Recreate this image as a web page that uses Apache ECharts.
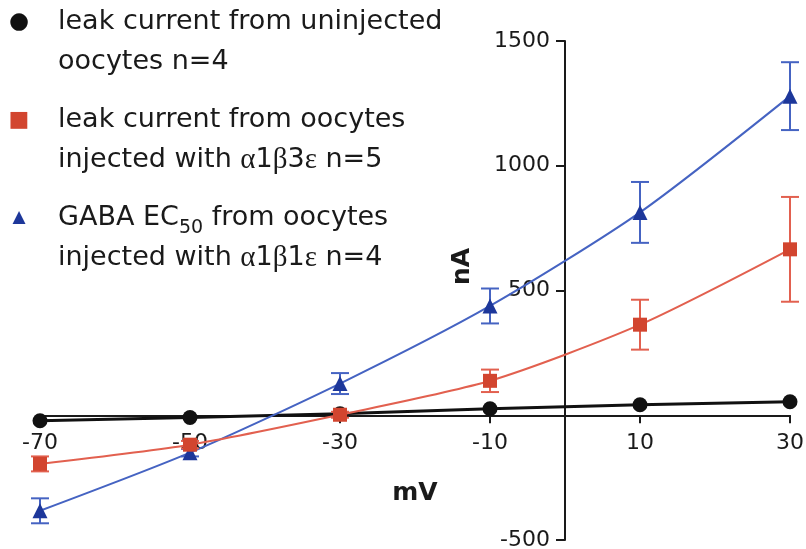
<!DOCTYPE html>
<html>
<head>
<meta charset="utf-8">
<script src="https://cdn.jsdelivr.net/npm/echarts@6/dist/echarts.min.js"></script>
<style>
html,body{margin:0;padding:0;background:#fff;}
#chart{width:806px;height:549px;}
</style>
</head>
<body>
<div id="chart"></div>
<script>
// ---- data ----
const mV = [-70, -50, -30, -10, 10, 30];
const uninjected = [-22, -9, 6, 26, 42, 54];
const a1b3e = [-195, -118, 2, 138, 363, 665];
const a1b3eErr = [30, 15, 12, 45, 100, 210];
const a1b1e = [-383, -150, 127, 438, 813, 1279];
const a1b1eErr = [50, 15, 42, 70, 122, 136];
const xTicks = [-70, -50, -30, -10, 10, 30];
const yTicks = [-500, 500, 1000, 1500];
const seriesNames = ['uninjected', 'a1b3e', 'a1b1e'];
const legendLabels = [
  '{i0|●}{s| }leak current from uninjected\n{p| }oocytes n=4',
  '{i1|■}{s| }leak current from oocytes\n{p| }injected with {g|α}1{g|β}3{g|ε} n=5',
  '{i2|▲}{s| }GABA EC{sub|50} from oocytes\n{p| }injected with {g|α}1{g|β}1{g|ε} n=4'
];

const BLACK = '#111111', RED = '#d2452f', REDLINE = '#e2604f', BLUE = '#1d379a', BLUELINE = '#4563c2';
const INK = '#1a1a1a';

function pts(ys) { return mV.map((x, i) => [x, ys[i]]); }
function errs(ys, es) { return mV.map((x, i) => [x, ys[i] - es[i], ys[i] + es[i]]); }

function errRender(color) {
  return function (params, api) {
    const x = api.value(0);
    const lo = api.coord([x, api.value(1)]);
    const hi = api.coord([x, api.value(2)]);
    const w = 9;
    const st = { stroke: color, lineWidth: 2 };
    return {
      type: 'group',
      children: [
        { type: 'line', shape: { x1: lo[0], y1: lo[1], x2: hi[0], y2: hi[1] }, style: st },
        { type: 'line', shape: { x1: lo[0] - w, y1: lo[1], x2: lo[0] + w, y2: lo[1] }, style: st },
        { type: 'line', shape: { x1: hi[0] - w, y1: hi[1], x2: hi[0] + w, y2: hi[1] }, style: st }
      ]
    };
  };
}

const chart = echarts.init(document.getElementById('chart'), null, { renderer: 'canvas' });
const FONT = 'DejaVu Sans';
const GRID = { left: 40, right: 16, top: 41, bottom: 9, outerBoundsMode: 'none', containLabel: false };
chart.setOption({
  backgroundColor: '#ffffff',
  animation: false,
  grid: GRID,
  legend: {
    data: seriesNames,
    orient: 'vertical',
    left: 0, top: 2, padding: 0,
    itemGap: 18,
    itemWidth: 2, itemHeight: 2,
    itemStyle: { opacity: 0 },
    lineStyle: { opacity: 0 },
    selectedMode: false,
    formatter: function (name) { return legendLabels[seriesNames.indexOf(name)]; },
    textStyle: {
      fontFamily: FONT, fontSize: 27, color: INK, lineHeight: 40,
      rich: {
        i0: { fontFamily: FONT, fontSize: 23, color: BLACK, width: 22, align: 'center', lineHeight: 40 },
        i1: { fontFamily: FONT, fontSize: 22, color: RED, width: 22, align: 'center', lineHeight: 40 },
        i2: { fontFamily: FONT, fontSize: 17, color: BLUE, width: 22, align: 'center', lineHeight: 40 },
        s: { width: 28, lineHeight: 40 },
        p: { width: 50, lineHeight: 40 },
        g: { fontFamily: 'Liberation Serif', fontSize: 29, color: INK, lineHeight: 40 },
        sub: { fontFamily: FONT, fontSize: 19, color: INK, lineHeight: 26, verticalAlign: 'bottom' }
      }
    }
  },
  xAxis: {
    type: 'value', min: -70, max: 30, interval: 10,
    axisLine: { onZero: false, lineStyle: { color: INK, width: 2 } },
    axisTick: { show: true, length: 8, customValues: xTicks, lineStyle: { color: INK, width: 2 } },
    axisLabel: { customValues: xTicks, fontFamily: FONT, fontSize: 22, color: INK, margin: 17,
      formatter: function (v) { return String(v); } },
    splitLine: { show: false }
  },
  yAxis: {
    type: 'value', min: -500, max: 1500, interval: 500,
    axisLine: { show: true, onZero: false, lineStyle: { color: INK, width: 2 } },
    axisTick: { show: true, length: 9, customValues: yTicks, lineStyle: { color: INK, width: 2 } },
    axisLabel: { customValues: yTicks, fontFamily: FONT, fontSize: 22, color: INK, margin: 15,
      formatter: function (v) { return String(v); } },
    splitLine: { show: false }
  },
  series: [
    {
      name: seriesNames[0], type: 'line', data: pts(uninjected), z: 2,
      symbol: 'circle', symbolSize: 15, itemStyle: { color: BLACK },
      lineStyle: { color: BLACK, width: 3 }
    },
    {
      name: 'errBlue', type: 'custom', data: errs(a1b1e, a1b1eErr), z: 3,
      renderItem: errRender(BLUELINE)
    },
    {
      name: seriesNames[2], type: 'line', data: pts(a1b1e), smooth: 0.25, z: 4,
      symbol: 'triangle', symbolSize: 15, itemStyle: { color: BLUE },
      lineStyle: { color: BLUELINE, width: 2 }
    },
    {
      name: 'errRed', type: 'custom', data: errs(a1b3e, a1b3eErr), z: 5,
      renderItem: errRender(REDLINE)
    },
    {
      name: seriesNames[1], type: 'line', data: pts(a1b3e), smooth: 0.25, z: 6,
      symbol: 'rect', symbolSize: 14, itemStyle: { color: RED },
      lineStyle: { color: REDLINE, width: 2 }
    }
  ]
});

// Place both axes so they cross at the data origin (0 mV, 0 nA), using the chart's own scales.
const origin = chart.convertToPixel({ gridIndex: 0 }, [0, 0]);
const gridRect = chart.getModel().getComponent('grid', 0).coordinateSystem.getRect();
const xOff = -(gridRect.y + gridRect.height - origin[1]);
const yOff = -(origin[0] - gridRect.x);
chart.setOption({
  xAxis: {
    offset: xOff,
    name: 'mV', nameLocation: 'middle', nameGap: 66,
    nameTextStyle: { fontFamily: FONT, fontSize: 25, fontWeight: 'bold', color: INK }
  },
  yAxis: { offset: yOff },
  graphic: [{
    type: 'text', x: origin[0] - 115, y: 285, rotation: Math.PI / 2,
    style: { text: 'nA', fontFamily: FONT, fontSize: 25, fontWeight: 'bold', fill: INK }
  }]
});
</script>
</body>
</html>
